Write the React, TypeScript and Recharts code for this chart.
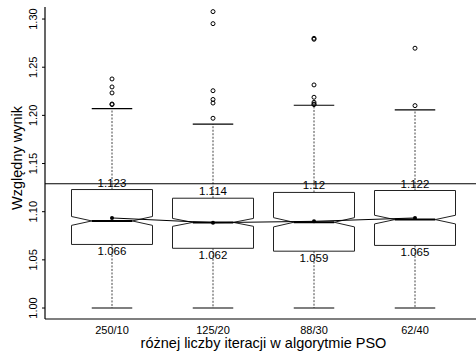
import React from 'react';
import { ComposedChart, Bar, Line, XAxis, YAxis, ReferenceLine } from 'recharts';

// box statistics
const categories = ['250/10', '125/20', '88/30', '62/40'];
const whiskerLow = [1.0, 1.0, 1.0, 1.0];
const lowerHinge = [1.066, 1.062, 1.059, 1.065];
const notchLow = [1.0858, 1.0848, 1.0842, 1.0873];
const medians = [1.0904, 1.0889, 1.089, 1.0918];
const notchHigh = [1.095, 1.093, 1.0938, 1.0963];
const upperHinge = [1.123, 1.114, 1.12, 1.122];
const whiskerHigh = [1.207, 1.191, 1.2105, 1.2056];
const means = [1.0935, 1.0886, 1.09, 1.0935];
const outliers = [
  [1.2378, 1.2295, 1.2233, 1.2118, 1.2112],
  [1.3077, 1.2952, 1.2256, 1.2165, 1.2128, 1.197],
  [1.28, 1.279, 1.2316, 1.2188, 1.2136, 1.2118, 1.2112],
  [1.2697, 1.2101],
];
const yTicks = [1.0, 1.05, 1.1, 1.15, 1.2, 1.25, 1.3];
const referenceValue = 1.129;

const FONT = '"Liberation Sans", Arial, Helvetica, sans-serif';

const data = categories.map((name, i) => ({
  name,
  range: [whiskerLow[i], whiskerHigh[i]],
  q1: lowerHinge[i],
  q3: upperHinge[i],
  med: medians[i],
  nlo: notchLow[i],
  nhi: notchHigh[i],
  mean: means[i],
  out: outliers[i],
}));

function BoxShape(props: any) {
  const { x, y, width, height, payload } = props;
  const [lo, hi] = payload.range;
  // map values using the pixel span the bar got from the y scale
  const py = (v: number) => y + ((hi - v) / (hi - lo)) * height;
  const cx = x + width / 2;
  const l = x;
  const r = x + width;
  const il = x + width / 4;
  const ir = x + (3 * width) / 4;
  const box = [
    `M${l},${py(payload.q3)}`,
    `L${r},${py(payload.q3)}`,
    `L${r},${py(payload.nhi)}`,
    `L${ir},${py(payload.med)}`,
    `L${r},${py(payload.nlo)}`,
    `L${r},${py(payload.q1)}`,
    `L${l},${py(payload.q1)}`,
    `L${l},${py(payload.nlo)}`,
    `L${il},${py(payload.med)}`,
    `L${l},${py(payload.nhi)}`,
    'Z',
  ].join(' ');
  return (
    <g>
      <line x1={cx} x2={cx} y1={py(payload.q3)} y2={py(hi)} stroke="#444" strokeWidth={1} strokeDasharray="2 1.5" />
      <line x1={cx} x2={cx} y1={py(payload.q1)} y2={py(lo)} stroke="#444" strokeWidth={1} strokeDasharray="2 1.5" />
      <line x1={il} x2={ir} y1={py(hi)} y2={py(hi)} stroke="#000" strokeWidth={1.2} />
      <line x1={il} x2={ir} y1={py(lo)} y2={py(lo)} stroke="#000" strokeWidth={1.2} />
      <path d={box} fill="#fff" stroke="#222" strokeWidth={1} />
      <line x1={il} x2={ir} y1={py(payload.med)} y2={py(payload.med)} stroke="#000" strokeWidth={2} />
      {payload.out.map((o: number, k: number) => (
        <circle key={k} cx={cx} cy={py(o)} r={2} fill="none" stroke="#000" strokeWidth={1} />
      ))}
      <text x={cx} y={py(payload.q3) - 3} textAnchor="middle" fontSize={11.5} fontFamily={FONT} fill="#000">
        {String(payload.q3)}
      </text>
      <text x={cx} y={py(payload.q1) + 11} textAnchor="middle" fontSize={11.5} fontFamily={FONT} fill="#000">
        {String(payload.q1)}
      </text>
    </g>
  );
}

function YTick(props: any) {
  const { x, y, payload } = props;
  const tx = x - 5;
  return (
    <text x={tx} y={y} transform={`rotate(-90, ${tx}, ${y})`} textAnchor="middle" fontSize={11} fontFamily={FONT} fill="#000">
      {payload.value.toFixed(2)}
    </text>
  );
}

function XTick(props: any) {
  const { x, y, payload } = props;
  return (
    <text x={x} y={y + 15} textAnchor="middle" fontSize={11} fontFamily={FONT} fill="#000">
      {payload.value}
    </text>
  );
}

export default function App() {
  return (
    <div style={{ position: 'absolute', left: 0, top: 0, background: '#fff' }}>
      <ComposedChart width={476} height={351} data={data} margin={{ top: 7, right: 0, bottom: 0, left: 0 }}>
        <XAxis
          dataKey="name"
          height={32}
          padding={{ left: 16.5, right: 10.5 }}
          tickLine={false}
          tickSize={0}
          tickMargin={0}
          tick={<XTick />}
          axisLine={{ stroke: '#000', strokeWidth: 1.2 }}
          label={(p: any) => {
            const vb = p.viewBox;
            return (
              <text x={vb.x + vb.width / 2 + 3} y={vb.y + 29} textAnchor="middle" fontSize={14.5} fontFamily={FONT} fill="#000">
                różnej liczby iteracji w algorytmie PSO
              </text>
            );
          }}
        />
        <XAxis xAxisId="top" orientation="top" dataKey="name" height={0} tick={false} tickLine={false} axisLine={{ stroke: '#000', strokeWidth: 1.2 }} />
        <YAxis
          width={45}
          type="number"
          domain={[0.9886, 1.3125]}
          allowDataOverflow
          ticks={yTicks}
          interval={0}
          tickSize={3}
          tickMargin={0}
          tickLine={{ stroke: '#000' }}
          tick={<YTick />}
          axisLine={{ stroke: '#000', strokeWidth: 1.2 }}
          label={(p: any) => {
            const vb = p.viewBox;
            const tx = 22;
            const ty = vb.y + vb.height / 2 - 5;
            return (
              <text x={tx} y={ty} transform={`rotate(-90, ${tx}, ${ty})`} textAnchor="middle" fontSize={14.5} fontFamily={FONT} fill="#000">
                Względny wynik
              </text>
            );
          }}
        />
        <Bar dataKey="range" barSize={81} shape={<BoxShape />} isAnimationActive={false} />
        <Line
          dataKey="mean"
          stroke="#000"
          strokeWidth={1}
          dot={{ r: 2, fill: '#000', stroke: 'none' }}
          activeDot={false}
          isAnimationActive={false}
        />
        <ReferenceLine y={referenceValue} stroke="#000" strokeWidth={1} />
      </ComposedChart>
    </div>
  );
}
